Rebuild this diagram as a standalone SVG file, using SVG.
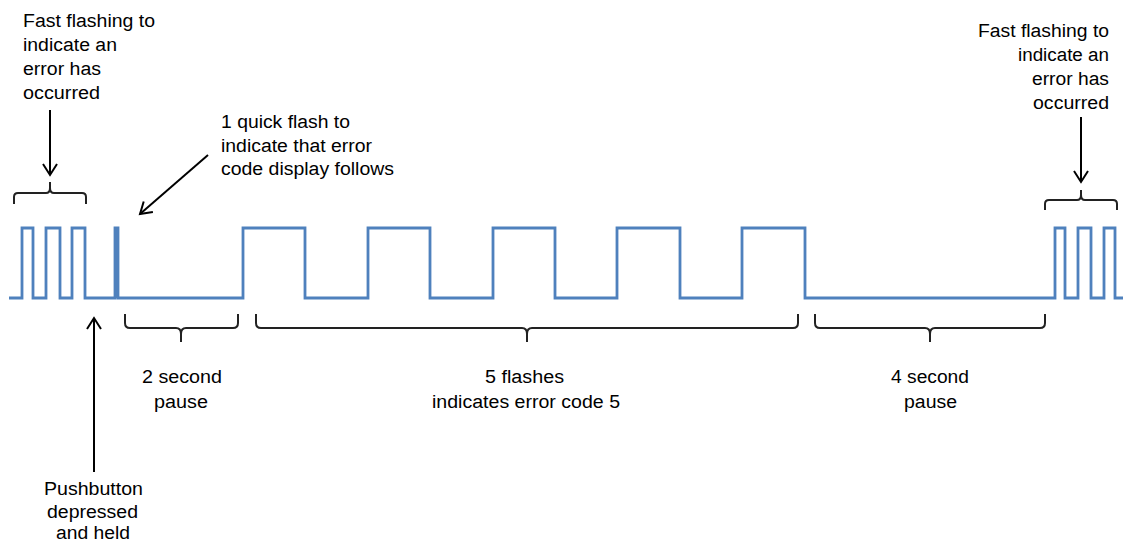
<svg xmlns="http://www.w3.org/2000/svg" width="1123" height="544" viewBox="0 0 1123 544">
<defs>
<marker id="arr" markerUnits="userSpaceOnUse" markerWidth="20" markerHeight="20" viewBox="0 0 20 20" refX="15" refY="10" orient="auto">
<path d="M4,3 L15,10 L4,17" fill="none" stroke="#000" stroke-width="2"/>
</marker>
<style>
.t{font-family:"Liberation Sans",Arial,sans-serif;font-size:18px;fill:#000}
.br{fill:none;stroke:#222;stroke-width:2}
.ar{fill:none;stroke:#000;stroke-width:2;marker-end:url(#arr)}
.wave{fill:none;stroke:#4F81BD;stroke-width:2.8;stroke-linejoin:miter}
</style>
</defs>
<rect width="1123" height="544" fill="#fff"/>
<g id="waveform">
<path class="wave" d="M9,298 H22 V228 H33 V298 H46 V228 H60 V298 H72 V228 H85 V298 H115 V228 H118 V298 H243 V228 H305 V298 H368 V228 H430 V298 H493 V228 H555 V298 H617 V228 H680 V298 H742 V228 H805 V298 H1055 V228 H1065 V298 H1078 V228 H1091 V298 H1104 V228 H1115 V298 H1123"/>
<rect x="115" y="228" width="4" height="70" fill="#4F81BD"/>
</g>
<g id="brackets">
<path class="br" d="M14,204 V197 Q14,193 18,193 H46 Q50,193 50,188 V182 M50,188 Q50,193 54,193 H82 Q86,193 86,197 V204"/>
<path class="br" d="M1045,210 V204 Q1045,200 1049,200 H1077 Q1081,200 1081,195 V190 M1081,195 Q1081,200 1085,200 H1113 Q1117,200 1117,204 V210"/>
<path class="br" d="M125,314 V323 Q125,328 130,328 H176 Q181,328 181,334 V342 M181,334 Q181,328 186,328 H233 Q238,328 238,323 V314"/>
<path class="br" d="M256,314 V323 Q256,328 261,328 H522 Q527,328 527,334 V342 M527,334 Q527,328 532,328 H793 Q798,328 798,323 V314"/>
<path class="br" d="M815,314 V323 Q815,328 820,328 H925 Q930,328 930,334 V342 M930,334 Q930,328 935,328 H1040 Q1045,328 1045,323 V314"/>
</g>
<g id="connectors">
<line class="ar" x1="50" y1="110" x2="50" y2="175"/>
<line class="ar" x1="1081" y1="117" x2="1081" y2="182"/>
<line class="ar" x1="208" y1="155" x2="140" y2="214"/>
<line class="ar" x1="94" y1="472" x2="94" y2="318"/>
</g>
<g id="label-fast-left">
<text class="t" x="23" y="27" textLength="132" lengthAdjust="spacingAndGlyphs">Fast flashing to</text>
<text class="t" x="23" y="51" textLength="94" lengthAdjust="spacingAndGlyphs">indicate an</text>
<text class="t" x="23" y="75" textLength="78" lengthAdjust="spacingAndGlyphs">error has</text>
<text class="t" x="23" y="99" textLength="77" lengthAdjust="spacingAndGlyphs">occurred</text>
</g>
<g id="label-quick">
<text class="t" x="221" y="128" textLength="129" lengthAdjust="spacingAndGlyphs">1 quick flash to</text>
<text class="t" x="221" y="152" textLength="151" lengthAdjust="spacingAndGlyphs">indicate that error</text>
<text class="t" x="221" y="175" textLength="173" lengthAdjust="spacingAndGlyphs">code display follows</text>
</g>
<g id="label-fast-right">
<text class="t" x="978" y="37" textLength="131" lengthAdjust="spacingAndGlyphs">Fast flashing to</text>
<text class="t" x="1018" y="61" textLength="91" lengthAdjust="spacingAndGlyphs">indicate an</text>
<text class="t" x="1032" y="85" textLength="77" lengthAdjust="spacingAndGlyphs">error has</text>
<text class="t" x="1033" y="109" textLength="76" lengthAdjust="spacingAndGlyphs">occurred</text>
</g>
<g id="label-pushbutton">
<text class="t" x="44" y="495" textLength="99" lengthAdjust="spacingAndGlyphs">Pushbutton</text>
<text class="t" x="47" y="518" textLength="91" lengthAdjust="spacingAndGlyphs">depressed</text>
<text class="t" x="56" y="539" textLength="74" lengthAdjust="spacingAndGlyphs">and held</text>
</g>
<g id="label-2s">
<text class="t" x="142" y="383" textLength="80" lengthAdjust="spacingAndGlyphs">2 second</text>
<text class="t" x="154" y="408" textLength="54" lengthAdjust="spacingAndGlyphs">pause</text>
</g>
<g id="label-5f">
<text class="t" x="485" y="383" textLength="79" lengthAdjust="spacingAndGlyphs">5 flashes</text>
<text class="t" x="432" y="408" textLength="188" lengthAdjust="spacingAndGlyphs">indicates error code 5</text>
</g>
<g id="label-4s">
<text class="t" x="891" y="383" textLength="78" lengthAdjust="spacingAndGlyphs">4 second</text>
<text class="t" x="904" y="408" textLength="53" lengthAdjust="spacingAndGlyphs">pause</text>
</g>
</svg>
